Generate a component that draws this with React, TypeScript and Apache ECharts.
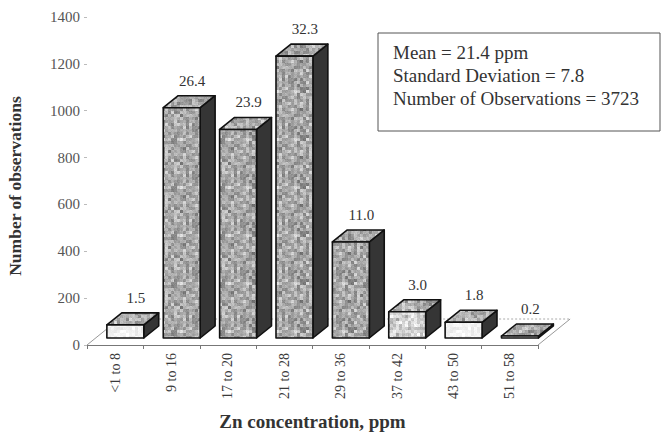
import React, { useEffect, useRef } from "react";
import * as echarts from "echarts";

const categories = ["<1 to 8", "9 to 16", "17 to 20", "21 to 28", "29 to 36", "37 to 42", "43 to 50", "51 to 58"];
const observations = [56, 983, 890, 1203, 410, 112, 67, 7];
const percentLabels = ["1.5", "26.4", "23.9", "32.3", "11.0", "3.0", "1.8", "0.2"];
const yMin = 0;
const yMax = 1400;
const yInterval = 200;
const statsLines = ["Mean = 21.4 ppm", "Standard Deviation = 7.8", "Number of Observations = 3723"];
const xTitle = "Zn concentration, ppm";
const yTitle = "Number of observations";

const SERIF = "'Liberation Serif', 'DejaVu Serif', serif";

// stippled grey texture (visual style only, deterministic)
function makeTexture(base: number, spread: number, seed: number): any {
  const size = 48;
  const cell = 3;
  const n = size / cell;
  const c = document.createElement("canvas");
  c.width = size;
  c.height = size;
  const ctx = c.getContext("2d")!;
  const img = ctx.createImageData(size, size);
  let s = seed >>> 0;
  const rnd = () => {
    s = (Math.imul(s, 1664525) + 1013904223) >>> 0;
    return s / 4294967296;
  };
  const block: number[] = [];
  for (let k = 0; k < n * n; k++) {
    block.push(base + (rnd() + rnd() - 1) * spread);
  }
  for (let y = 0; y < size; y++) {
    for (let x = 0; x < size; x++) {
      const v = block[Math.floor(y / cell) * n + Math.floor(x / cell)] + (rnd() - 0.5) * spread * 0.35;
      const p = (y * size + x) * 4;
      const g = Math.max(0, Math.min(255, v));
      img.data[p] = g;
      img.data[p + 1] = g;
      img.data[p + 2] = g;
      img.data[p + 3] = 255;
    }
  }
  ctx.putImageData(img, 0, 0);
  return { image: c.toDataURL(), repeat: "repeat", imageWidth: size, imageHeight: size };
}

export default function App() {
  const ref = useRef<HTMLDivElement>(null);
  useEffect(() => {
    document.body.style.margin = "0";
    const chart = echarts.init(ref.current!, undefined, { renderer: "svg" });
    const barData = observations.map((v, i) => [i, v, i]);

    const texDark = makeTexture(168, 60, 7);
    const texMid = makeTexture(208, 50, 11);
    const texLight = makeTexture(243, 18, 13);
    const texTop = makeTexture(172, 55, 17);

    const option: any = {
      animation: false,
      backgroundColor: "#ffffff",
      grid: { left: 87, right: 124, top: 17, bottom: 89, containLabel: false, outerBoundsMode: "none" },
      xAxis: {
        type: "category",
        data: categories,
        boundaryGap: true,
        axisLine: { show: true, lineStyle: { color: "#777", width: 1 } },
        axisTick: { show: true, length: 4, lineStyle: { color: "#777" } },
        axisLabel: {
          rotate: 90,
          margin: 8,
          fontFamily: SERIF,
          fontSize: 14,
          color: "#3a3a3a",
        },
        name: xTitle,
        nameLocation: "middle",
        nameGap: 67,
        nameTextStyle: { fontFamily: SERIF, fontSize: 19, fontWeight: "bold", color: "#333" },
      },
      yAxis: {
        type: "value",
        min: yMin,
        max: yMax,
        interval: yInterval,
        axisLine: { show: false },
        axisTick: { show: true, length: 3, lineStyle: { color: "#bbb" } },
        splitLine: { show: false },
        axisLabel: {
          fontFamily: SERIF,
          fontSize: 15,
          color: "#555",
          margin: 7,
          formatter: (v: number) => String(v),
        },
      },
      graphic: [
        {
          type: "text",
          x: 15,
          y: 186,
          rotation: Math.PI / 2,
          style: {
            text: yTitle,
            align: "center",
            verticalAlign: "middle",
            fontFamily: SERIF,
            fontSize: 17.5,
            fontWeight: "bold",
            fill: "#333",
          },
        },
        {
          type: "rect",
          shape: { x: 378, y: 33, width: 282, height: 98 },
          style: { fill: "#fff", stroke: "#555", lineWidth: 1 },
          z: 10,
        },
        {
          type: "text",
          x: 393,
          y: 41,
          z: 11,
          style: {
            text: statsLines.join("\n"),
            fontFamily: SERIF,
            fontSize: 19,
            lineHeight: 23,
            fill: "#333",
          },
        },
      ],
      series: [
        {
          type: "custom",
          z: 1,
          data: [[0, 0]],
          renderItem: (params: any, api: any) => {
            const first = api.coord([0, 0]);
            const last = api.coord([categories.length - 1, 0]);
            const slot = api.size([1, 0])[0];
            const left = first[0] - slot / 2;
            const right = last[0] + slot / 2;
            const y = first[1];
            const ddx = slot * 0.57;
            const ddy = -26;
            return {
              type: "group",
              children: [
                {
                  type: "line",
                  shape: { x1: left, y1: y, x2: left + ddx, y2: y + ddy },
                  style: { stroke: "#999", lineWidth: 1 },
                },
                {
                  type: "line",
                  shape: { x1: left + ddx, y1: y + ddy, x2: right + ddx, y2: y + ddy },
                  style: { stroke: "#aaa", lineWidth: 1, lineDash: [2, 2] },
                },
                {
                  type: "line",
                  shape: { x1: right, y1: y, x2: right + ddx, y2: y + ddy },
                  style: { stroke: "#999", lineWidth: 1 },
                },
              ],
            };
          },
        },
        {
          type: "custom",
          z: 2,
          data: barData,
          encode: { x: 0, y: 1 },
          renderItem: (params: any, api: any) => {
            const i = api.value(0);
            const v = api.value(1);
            const base = api.coord([i, 0]);
            const topPt = api.coord([i, v]);
            const slot = api.size([1, 0])[0];
            const offX = slot * 0.18;
            const offY = -7;
            const w = slot * 0.655;
            const dx = slot * 0.265;
            const dy = -12;
            const x0 = base[0] - slot / 2 + offX + (slot - w) / 2;
            const x1 = x0 + w;
            const yb = base[1] + offY;
            const yt = Math.min(topPt[1] + offY, yb - 2);
            const h = yb - yt;
            const frontFill = h < 20 ? texLight : h < 40 ? texMid : texDark;
            const stroke = { stroke: "#111", lineWidth: 1.6, lineJoin: "round" };
            return {
              type: "group",
              children: [
                {
                  type: "polygon",
                  shape: { points: [[x1, yb], [x1 + dx, yb + dy], [x1 + dx, yt + dy], [x1, yt]] },
                  style: { fill: "#353535", ...stroke },
                },
                {
                  type: "polygon",
                  shape: { points: [[x0, yt], [x1, yt], [x1 + dx, yt + dy], [x0 + dx, yt + dy]] },
                  style: { fill: texTop, ...stroke },
                },
                {
                  type: "polygon",
                  shape: { points: [[x0, yb], [x1, yb], [x1, yt], [x0, yt]] },
                  style: { fill: frontFill, ...stroke },
                },
                {
                  type: "text",
                  style: {
                    text: percentLabels[i],
                    x: (x0 + x1) / 2 + dx * 0.7,
                    y: yt + dy - 15,
                    align: "center",
                    verticalAlign: "middle",
                    fontFamily: SERIF,
                    fontSize: 15,
                    fill: "#333",
                  },
                },
              ],
            };
          },
        },
      ],
    };
    chart.setOption(option);
    return () => chart.dispose();
  }, []);
  return <div ref={ref} style={{ width: 662, height: 434 }} />;
}
